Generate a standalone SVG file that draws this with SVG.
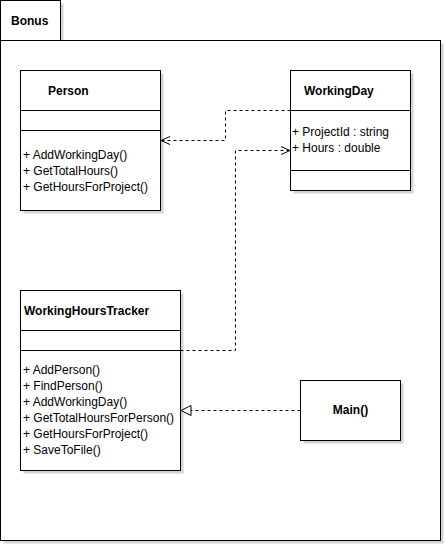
<svg xmlns="http://www.w3.org/2000/svg" width="445" height="545" viewBox="0 0 445 545">
<style>
.sh{fill:#d4d4d4;stroke:none}
.box{fill:#fff;stroke:#000;stroke-width:1}
.ln{stroke:#000;stroke-width:1;fill:none}
.dash{stroke:#000;stroke-width:1;fill:none;stroke-dasharray:3,3}
text{font-family:"Liberation Sans",Arial,sans-serif;font-size:12px;fill:#000}
.b{font-weight:bold}
</style>
<defs>
<marker id="open" markerWidth="12" markerHeight="12" refX="10" refY="5" orient="auto" markerUnits="userSpaceOnUse">
<path d="M1,1 L10,5 L1,9" fill="none" stroke="#000" stroke-width="1"/>
</marker>
<marker id="tri" markerWidth="14" markerHeight="14" refX="11" refY="6" orient="auto" markerUnits="userSpaceOnUse">
<path d="M1,1 L11,6 L1,11 Z" fill="#fff" stroke="#000" stroke-width="1"/>
</marker>
</defs>
<g id="package">
<rect class="sh" x="3.5" y="3.5" width="60" height="40"/>
<rect class="sh" x="3.5" y="43.5" width="440" height="500"/>
<rect class="box" x="0.5" y="0.5" width="60" height="40"/>
<rect class="box" x="0.5" y="40.5" width="440" height="500"/>
<text class="b" x="11" y="25">Bonus</text>
</g>
<g id="person">
<rect class="sh" x="23.5" y="73.5" width="140" height="140"/>
<rect class="box" x="20.5" y="70.5" width="140" height="140"/>
<line class="ln" x1="20.5" y1="110.5" x2="160.5" y2="110.5"/>
<line class="ln" x1="20.5" y1="130.5" x2="160.5" y2="130.5"/>
<text class="b" x="48" y="95">Person</text>
<text x="23" y="159">+ AddWorkingDay()</text>
<text x="23" y="175">+ GetTotalHours()</text>
<text x="23" y="191">+ GetHoursForProject()</text>
</g>
<g id="workingday">
<rect class="sh" x="293.5" y="73.5" width="120" height="120"/>
<rect class="box" x="290.5" y="70.5" width="120" height="120"/>
<line class="ln" x1="290.5" y1="110.5" x2="410.5" y2="110.5"/>
<line class="ln" x1="290.5" y1="170.5" x2="410.5" y2="170.5"/>
<text class="b" x="304" y="95">WorkingDay</text>
<text x="292" y="136">+ ProjectId : string</text>
<text x="292" y="152">+ Hours : double</text>
</g>
<g id="tracker">
<rect class="sh" x="23.5" y="293.5" width="160" height="180"/>
<rect class="box" x="20.5" y="290.5" width="160" height="180"/>
<line class="ln" x1="20.5" y1="330.5" x2="180.5" y2="330.5"/>
<line class="ln" x1="20.5" y1="350.5" x2="180.5" y2="350.5"/>
<text class="b" x="24" y="315">WorkingHoursTracker</text>
<text x="23" y="374">+ AddPerson()</text>
<text x="23" y="390">+ FindPerson()</text>
<text x="23" y="406">+ AddWorkingDay()</text>
<text x="23" y="422">+ GetTotalHoursForPerson()</text>
<text x="23" y="438">+ GetHoursForProject()</text>
<text x="23" y="454">+ SaveToFile()</text>
</g>
<g id="main">
<rect class="sh" x="303.5" y="383.5" width="100" height="60"/>
<rect class="box" x="300.5" y="380.5" width="100" height="60"/>
<text class="b" x="350.5" y="414" text-anchor="middle">Main()</text>
</g>
<g id="connectors">
<polyline class="dash" points="290.5,110.5 225.5,110.5 225.5,140.5 161,140.5" marker-end="url(#open)"/>
<polyline class="dash" points="180.5,350.5 235.5,350.5 235.5,150.5 290,150.5" marker-end="url(#open)"/>
<polyline class="dash" points="300.5,410.5 181,410.5" marker-end="url(#tri)"/>
</g>
</svg>
